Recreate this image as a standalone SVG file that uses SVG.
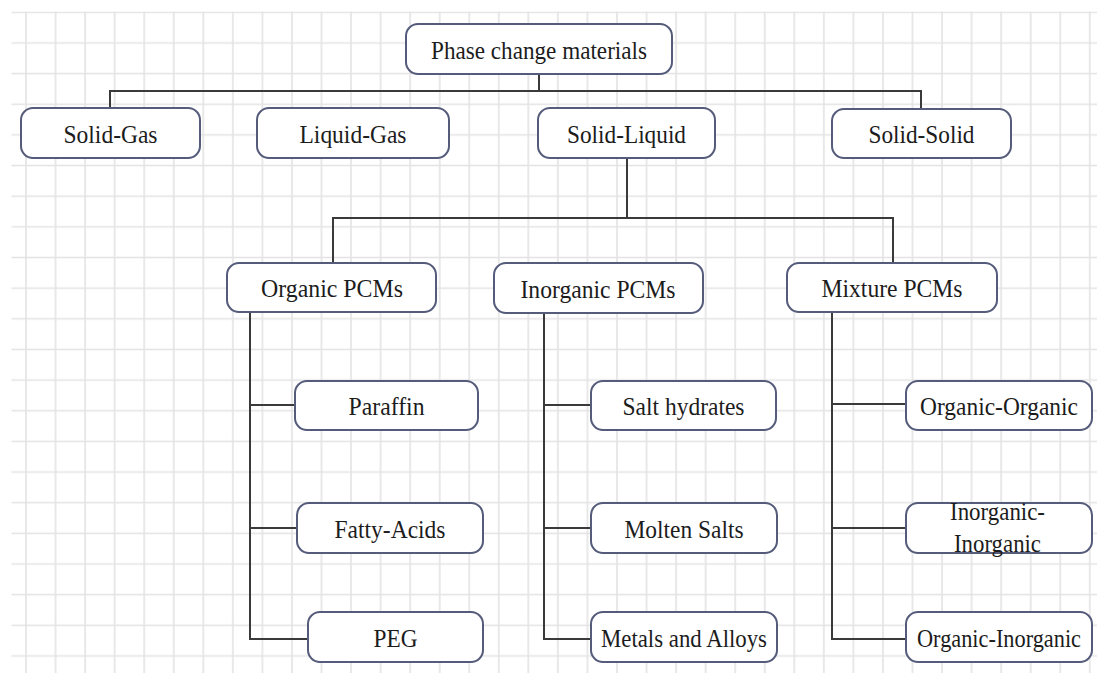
<svg xmlns="http://www.w3.org/2000/svg" width="1097" height="673" viewBox="0 0 1097 673">
<defs>
<pattern id="grid" patternUnits="userSpaceOnUse" x="11.225" y="-3.025" width="29.55" height="30.65">
<path d="M14.775 0V30.65M0 15.325H29.55" stroke="#e3e3e3" stroke-width="1.6" fill="none"/>
</pattern>
</defs>
<style>
.box{fill:#fff;stroke:#555b7a;stroke-width:2}
.lbl{font-family:"Liberation Serif","Times New Roman",serif;font-size:26px;fill:#1c1c1c;text-anchor:middle}
.con{fill:none;stroke:#3a3a3a;stroke-width:2}
</style>
<rect width="1097" height="673" fill="#fff"/>
<rect x="11.5" y="11.5" width="1086" height="662" fill="url(#grid)"/>
<g id="connectors">
<path class="con" d="M539 74V91M110 108V91H921V109"/>
<path class="con" d="M627 158V218M333 263V218H893V263"/>
<path class="con" d="M250 312V639H308M250 405H295M250 528H297"/>
<path class="con" d="M544 313V639H591M544 405H591M544 528H591"/>
<path class="con" d="M832 312V639H906M832 404H906M832 528H906"/>
</g>
<g id="n-pcm"><rect class="box" x="406" y="24" width="266" height="50" rx="12"/><text class="lbl" x="539" y="58.5" textLength="216" lengthAdjust="spacingAndGlyphs">Phase change materials</text></g>
<g id="n-sg"><rect class="box" x="21" y="108" width="179" height="50" rx="12"/><text class="lbl" x="110.5" y="142.5" textLength="94" lengthAdjust="spacingAndGlyphs">Solid-Gas</text></g>
<g id="n-lg"><rect class="box" x="257" y="108" width="192" height="50" rx="12"/><text class="lbl" x="353" y="142.5" textLength="107" lengthAdjust="spacingAndGlyphs">Liquid-Gas</text></g>
<g id="n-sl"><rect class="box" x="538" y="108" width="177" height="50" rx="12"/><text class="lbl" x="626.5" y="142.5" textLength="119" lengthAdjust="spacingAndGlyphs">Solid-Liquid</text></g>
<g id="n-ss"><rect class="box" x="832" y="109" width="179" height="49" rx="12"/><text class="lbl" x="921.5" y="143" textLength="106" lengthAdjust="spacingAndGlyphs">Solid-Solid</text></g>
<g id="n-org"><rect class="box" x="227" y="263" width="209" height="49" rx="12"/><text class="lbl" x="332" y="297" textLength="142" lengthAdjust="spacingAndGlyphs">Organic PCMs</text></g>
<g id="n-inorg"><rect class="box" x="494" y="263" width="209" height="50" rx="12"/><text class="lbl" x="598" y="297.5" textLength="155" lengthAdjust="spacingAndGlyphs">Inorganic PCMs</text></g>
<g id="n-mix"><rect class="box" x="787" y="263" width="210" height="49" rx="12"/><text class="lbl" x="892" y="297" textLength="141" lengthAdjust="spacingAndGlyphs">Mixture PCMs</text></g>
<g id="n-paraffin"><rect class="box" x="295" y="381" width="183" height="49" rx="12"/><text class="lbl" x="386.5" y="415" textLength="76" lengthAdjust="spacingAndGlyphs">Paraffin</text></g>
<g id="n-fatty"><rect class="box" x="297" y="503" width="186" height="50" rx="12"/><text class="lbl" x="390" y="537.5" textLength="111" lengthAdjust="spacingAndGlyphs">Fatty-Acids</text></g>
<g id="n-peg"><rect class="box" x="308" y="612" width="175" height="50" rx="12"/><text class="lbl" x="395.5" y="646.5" textLength="44" lengthAdjust="spacingAndGlyphs">PEG</text></g>
<g id="n-salt"><rect class="box" x="591" y="381" width="185" height="49" rx="12"/><text class="lbl" x="683.5" y="415" textLength="122" lengthAdjust="spacingAndGlyphs">Salt hydrates</text></g>
<g id="n-molten"><rect class="box" x="591" y="503" width="186" height="50" rx="12"/><text class="lbl" x="684" y="537.5" textLength="119" lengthAdjust="spacingAndGlyphs">Molten Salts</text></g>
<g id="n-metals"><rect class="box" x="591" y="612" width="186" height="50" rx="12"/><text class="lbl" x="684" y="646.5" textLength="166" lengthAdjust="spacingAndGlyphs">Metals and Alloys</text></g>
<g id="n-oo"><rect class="box" x="906" y="381" width="186" height="49" rx="12"/><text class="lbl" x="999" y="415" textLength="158" lengthAdjust="spacingAndGlyphs">Organic-Organic</text></g>
<g id="n-ii"><rect class="box" x="906" y="503" width="186" height="50" rx="12"/><text class="lbl" x="997.5" y="520" textLength="95" lengthAdjust="spacingAndGlyphs">Inorganic-</text><text class="lbl" x="997.5" y="552" textLength="87" lengthAdjust="spacingAndGlyphs">Inorganic</text></g>
<g id="n-oi"><rect class="box" x="906" y="612" width="186" height="50" rx="12"/><text class="lbl" x="999" y="646.5" textLength="164" lengthAdjust="spacingAndGlyphs">Organic-Inorganic</text></g>
</svg>
